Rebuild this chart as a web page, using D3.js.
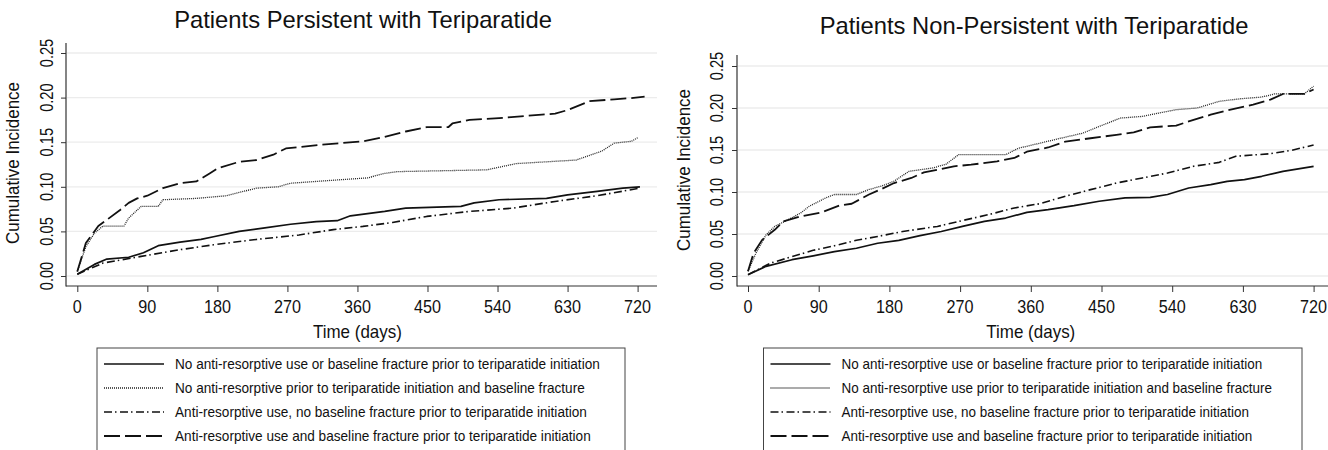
<!DOCTYPE html>
<html>
<head>
<meta charset="utf-8">
<script src="https://cdn.jsdelivr.net/npm/d3@7"></script>
<style>
  body { margin: 0; background: #fff; }
  svg { display: block; font-family: "Liberation Sans", Arial, sans-serif; }
</style>
</head>
<body>
<svg id="chart" width="1328" height="450"></svg>
<script>
// ---- data (day, cumulative incidence) ----
var dayTicks = [0, 90, 180, 270, 360, 450, 540, 630, 720];
var yTicks = [0, 0.05, 0.10, 0.15, 0.20, 0.25];

var legendLeft = [
  "No anti-resorptive use or baseline fracture prior to teriparatide initiation",
  "No anti-resorptive prior to teriparatide initiation and baseline fracture",
  "Anti-resorptive use, no baseline fracture prior to teriparatide initiation",
  "Anti-resorptive use and baseline fracture prior to teriparatide initiation"
];
var legendRight = [
  "No anti-resorptive use or baseline fracture prior to teriparatide initiation",
  "No anti-resorptive use prior to teriparatide initiation and baseline fracture",
  "Anti-resorptive use, no baseline fracture prior to teriparatide initiation",
  "Anti-resorptive use and baseline fracture prior to teriparatide initiation"
];

// persistent panel
var persNone = [[0,.002],[22,.013],[38,.019],[66,.021],[85,.026],[104,.034],[132,.038],[159,.041],[175,.044],
  [208,.050],[241,.054],[274,.058],[307,.061],[334,.062],[351,.0675],[395,.0724],[422,.076],[493,.078],
  [510,.082],[542,.0855],[603,.087],[630,.091],[668,.0948],[701,.0985],[723,.100]];
var persFx = [[0,.005],[11,.033],[22,.048],[33,.056],[60,.056],[66,.065],[82,.078],[104,.078],[110,.0855],
  [153,.087],[192,.090],[230,.0985],[258,.100],[274,.104],[323,.107],[373,.110],[395,.115],[411,.117],
  [526,.119],[564,.126],[641,.130],[674,.140],[690,.149],[712,.151],[720,.155]];
var persAr = [[0,.002],[33,.0145],[82,.022],[132,.0295],[175,.035],[230,.041],[285,.046],[329,.052],
  [367,.0556],[405,.060],[449,.0668],[504,.0724],[559,.076],[614,.0836],[668,.090],[723,.0985]];
var persArFx = [[0,.005],[11,.037],[27,.056],[38,.063],[55,.074],[66,.082],[77,.087],[90,.090],[110,.0985],
  [132,.104],[153,.106],[170,.115],[181,.121],[208,.128],[230,.130],[252,.136],[268,.143],[312,.147],
  [340,.149],[367,.151],[395,.156],[422,.162],[449,.167],[477,.167],[482,.171],[504,.175],[542,.177],
  [570,.179],[597,.181],[614,.182],[630,.186],[658,.196],[690,.198],[712,.1995],[729,.201]];

// non-persistent panel
var nonNone = [[0,.0016],[23,.0115],[56,.0194],[83,.024],[110,.029],[138,.033],[165,.039],[192,.0425],
  [219,.048],[246,.053],[273,.059],[301,.065],[328,.069],[355,.0758],[382,.079],[415,.0837],[447,.089],
  [480,.093],[512,.0937],[534,.097],[561,.1048],[589,.1087],[610,.1127],[632,.1147],[654,.1187],
  [681,.1246],[720,.1306]];
var nonFx = [[0,.0056],[10,.027],[23,.049],[34,.059],[51,.067],[67,.075],[78,.083],[99,.093],[110,.097],
  [138,.097],[154,.103],[170,.107],[186,.113],[205,.1246],[235,.1286],[252,.133],[268,.1444],[328,.1444],
  [344,.152],[371,.158],[398,.164],[426,.170],[447,.178],[474,.188],[502,.190],[523,.194],[545,.198],
  [572,.200],[600,.208],[627,.211],[654,.213],[670,.2167],[708,.2167],[720,.226]];
var nonAr = [[0,.0016],[29,.0155],[56,.023],[83,.0306],[110,.036],[138,.0425],[165,.047],[197,.053],
  [241,.059],[273,.066],[306,.073],[339,.081],[371,.086],[404,.095],[436,.1028],[469,.1107],[502,.1167],
  [534,.1226],[567,.1306],[600,.1353],[621,.1425],[665,.1456],[692,.1496],[720,.156]];
var nonArFx = [[0,.0056],[7,.027],[18,.043],[34,.055],[45,.065],[67,.071],[94,.0758],[116,.0837],[132,.086],
  [154,.097],[170,.1036],[186,.1107],[208,.1167],[224,.1234],[246,.1274],[262,.1306],[284,.1325],
  [317,.1365],[339,.1405],[355,.148],[382,.153],[404,.160],[436,.164],[469,.168],[491,.171],[512,.177],
  [545,.179],[561,.184],[589,.192],[610,.197],[643,.204],[665,.210],[681,.2167],[708,.2167],[720,.222]];

// line styles: solid, dotted, dash-dot, long dash
var styles = [
  { dash: null,            width: 1.7, color: "#111" },
  { dash: "1,1",           width: 1.3, color: "#222" },
  { dash: "8,3,1.5,3.5",   width: 1.6, color: "#111" },
  { dash: "16,5",          width: 1.8, color: "#111" }
];

var svg = d3.select("#chart");

function label(g, str, size, anchor) {
  return g.append("text")
    .attr("font-size", size)
    .attr("fill", "#111")
    .attr("text-anchor", anchor || "middle")
    .text(str);
}

// place text, squeezed along its own direction to a target length (narrow face look)
function place(t, x, y, w, rot) {
  var sx = w ? w / t.node().getComputedTextLength() : 1;
  t.attr("transform", "translate(" + x + "," + y + ")" + (rot ? " rotate(-90)" : "") + " scale(" + sx + ",1)");
}

function panel(p) {
  var g = svg.append("g");
  var x = d3.scaleLinear().domain([0, 720]).range(p.xr);
  var y = d3.scaleLinear().domain([0, 0.25]).range(p.yr);

  // grid
  g.selectAll("line.grid").data(yTicks).enter().append("line")
    .attr("x1", p.left + 1).attr("x2", p.right)
    .attr("y1", function (d) { return y(d); }).attr("y2", function (d) { return y(d); })
    .attr("stroke", "#ececec").attr("stroke-width", 1.3);

  // axes
  var ya = d3.axisLeft(y).tickValues(yTicks).tickSize(5).tickFormat("");
  g.append("g").attr("transform", "translate(" + p.left + ",0)").call(ya)
    .call(function (s) { s.select(".domain").remove(); s.selectAll("line").attr("stroke", "#333"); });
  var xa = d3.axisBottom(x).tickValues(dayTicks).tickSize(6).tickFormat("");
  g.append("g").attr("transform", "translate(0," + p.bottom + ")").call(xa)
    .call(function (s) { s.select(".domain").remove(); s.selectAll("line").attr("stroke", "#333"); });
  g.append("line").attr("x1", p.left).attr("x2", p.left).attr("y1", p.top).attr("y2", p.bottom + 0.5)
    .attr("stroke", "#333").attr("stroke-width", 1.2);
  g.append("line").attr("x1", p.left).attr("x2", p.right).attr("y1", p.bottom).attr("y2", p.bottom)
    .attr("stroke", "#333").attr("stroke-width", 1.2);

  // tick labels
  yTicks.forEach(function (v) {
    var t = label(g, d3.format(".2f")(v), 18.5).attr("dy", "0.36em");
    place(t, p.ycx, y(v), 28.5, true);
  });
  dayTicks.forEach(function (d) {
    place(label(g, d, 17.5), x(d), 313, d < 10 ? 9 : (d < 100 ? 18 : 27), false);
  });

  place(label(g, "Time (days)", 17.5), (x(0) + x(720)) / 2, 338, 89, false);
  place(label(g, "Cumulative Incidence", 18), p.ytx, p.yty, 162, true);
  place(label(g, p.title, 23), p.tx, p.ty, p.tw, false);

  // curves
  var line = d3.line().x(function (d) { return x(d[0]); }).y(function (d) { return y(d[1]); });
  p.series.forEach(function (s, i) {
    g.append("path").attr("d", line(s)).attr("fill", "none")
      .attr("stroke", styles[i].color).attr("stroke-width", styles[i].width)
      .attr("stroke-dasharray", styles[i].dash).attr("stroke-linejoin", "round");
  });

  // legend
  g.append("rect").attr("x", p.lx).attr("y", 348).attr("width", p.lw).attr("height", 120)
    .attr("fill", "none").attr("stroke", "#444").attr("stroke-width", 1);
  p.legend.forEach(function (txt, i) {
    var ly = 364 + i * 24;
    g.append("line").attr("x1", p.lx + 7).attr("x2", p.lx + 67).attr("y1", ly).attr("y2", ly)
      .attr("stroke", styles[i].color).attr("stroke-width", styles[i].width)
      .attr("stroke-dasharray", styles[i].dash);
    place(label(g, txt, 14, "start"), p.lx + 78, ly + 5, p.legW[i], false);
  });
}

panel({
  left: 66, right: 657, top: 43, bottom: 286, xr: [77.3, 637.6], yr: [276, 53],
  title: "Patients Persistent with Teriparatide", tx: 363, ty: 28, tw: 378,
  ycx: 46, ytx: 19, yty: 163,
  series: [persNone, persFx, persAr, persArFx],
  legend: legendLeft, lx: 97, lw: 528, legW: [425, 410, 412, 416]
});
panel({
  left: 737, right: 1328, top: 55, bottom: 286, xr: [748, 1313.6], yr: [276, 66],
  title: "Patients Non-Persistent with Teriparatide", tx: 1034, ty: 34, tw: 429,
  ycx: 716.5, ytx: 690, yty: 170,
  series: [nonNone, nonFx, nonAr, nonArFx],
  legend: legendRight, lx: 763.5, lw: 538.5, legW: [421, 431, 408, 411]
});
</script>
</body>
</html>
